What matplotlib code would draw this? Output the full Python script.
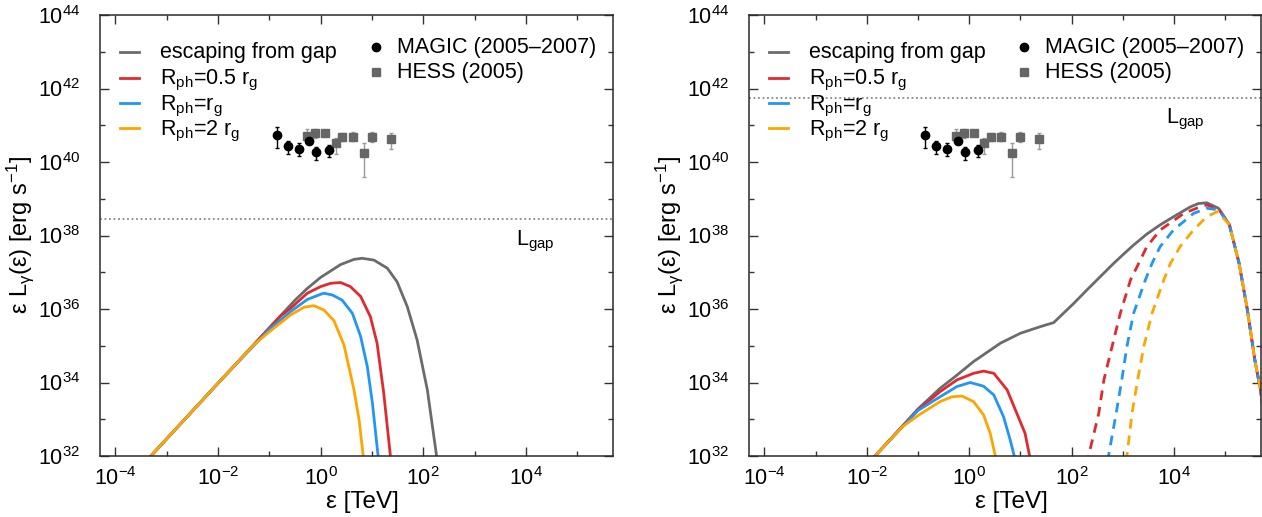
import numpy as np
import matplotlib
matplotlib.use("Agg")
import matplotlib.pyplot as plt
from matplotlib.ticker import FixedLocator, NullFormatter
from matplotlib.lines import Line2D

plt.rcParams["font.family"] = ["Liberation Sans", "DejaVu Sans"]
plt.rcParams["mathtext.fontset"] = "custom"
plt.rcParams["mathtext.rm"] = "Liberation Sans"
plt.rcParams["mathtext.it"] = "Liberation Sans:italic"
plt.rcParams["mathtext.bf"] = "Liberation Sans:bold"


# --------------------------------
# DATA (log10 E [TeV], log10 L [erg/s])
# --------------------------------

# left panel
left_gap_logE = [-3.6, -3.31, -2.0, -1.0, -0.5, -0.26, 0.0, 0.39, 0.65, 0.81, 1.04, 1.30, 1.49, 1.69, 1.88, 2.08, 2.26, 2.35]
left_gap_logL = [31.56, 32.0, 33.98, 35.49, 36.24, 36.56, 36.86, 37.21, 37.35, 37.38, 37.33, 37.11, 36.74, 36.06, 35.16, 33.80, 32.0, 31.0]

left_r05_logE = [-3.6, -3.31, -2.0, -1.0, -0.78, -0.584, -0.26, 0.0, 0.195, 0.39, 0.58, 0.78, 0.97, 1.10, 1.23, 1.36, 1.45]
left_r05_logL = [31.56, 32.0, 33.98, 35.48, 35.81, 36.02, 36.43, 36.61, 36.70, 36.72, 36.61, 36.34, 35.79, 35.07, 33.71, 32.0, 31.0]

left_r1_logE = [-3.6, -3.31, -2.0, -1.0, -0.584, -0.26, 0.0, 0.065, 0.23, 0.42, 0.62, 0.78, 0.91, 1.01, 1.12, 1.2]
left_r1_logL = [31.56, 32.0, 33.98, 35.45, 35.93, 36.26, 36.40, 36.43, 36.38, 36.24, 35.88, 35.25, 34.43, 33.43, 32.0, 31.0]

left_r2_logE = [-3.6, -3.31, -2.0, -1.3, -1.0, -0.584, -0.32, -0.13, 0.065, 0.26, 0.455, 0.65, 0.75, 0.83, 0.9]
left_r2_logL = [31.56, 32.0, 33.98, 35.03, 35.38, 35.84, 36.05, 36.09, 35.97, 35.68, 35.02, 33.80, 32.98, 32.0, 31.2]

# right panel
right_gap_logE = [-2.0, -1.84, -1.0, -0.57, -0.24, 0.085, 0.61, 1.0, 1.39, 1.65, 2.04, 2.30, 2.56, 2.82, 3.02, 3.21, 3.47, 3.73, 3.99, 4.32, 4.48, 4.64, 4.87, 5.08, 5.27, 5.43, 5.58, 5.69, 5.8]
right_gap_logL = [31.76, 32.0, 33.28, 33.84, 34.2, 34.57, 35.07, 35.34, 35.52, 35.63, 36.15, 36.52, 36.88, 37.24, 37.50, 37.74, 38.04, 38.29, 38.51, 38.78, 38.87, 38.89, 38.74, 38.3, 37.25, 36.0, 34.6, 33.8, 32.6]

right_r05_logE = [-2.0, -1.84, -1.0, -0.57, -0.24, 0.085, 0.28, 0.48, 0.74, 0.93, 1.09, 1.18, 1.25]
right_r05_logL = [31.76, 32.0, 33.26, 33.75, 34.07, 34.25, 34.31, 34.25, 33.80, 33.16, 32.62, 32.0, 31.4]

right_r1_logE = [-2.0, -1.84, -1.0, -0.57, -0.24, 0.02, 0.28, 0.48, 0.67, 0.80, 0.88, 0.95]
right_r1_logL = [31.76, 32.0, 33.24, 33.61, 33.89, 34.0, 33.90, 33.66, 33.07, 32.44, 32.0, 31.5]

right_r2_logE = [-2.0, -1.84, -1.3, -1.0, -0.83, -0.57, -0.34, -0.14, 0.085, 0.28, 0.41, 0.51, 0.58]
right_r2_logL = [31.76, 32.0, 32.8, 33.1, 33.25, 33.48, 33.61, 33.63, 33.48, 33.12, 32.62, 32.0, 31.5]

# right panel, dashed (cascade) components
right_r05_casc_logE = [2.25, 2.33, 2.53, 2.63, 2.79, 2.95, 3.15, 3.31, 3.47, 3.73, 4.19, 4.51, 4.64, 4.87, 5.08, 5.27, 5.43, 5.58, 5.69, 5.8]
right_r05_casc_logL = [31.3, 32.0, 33.16, 34.07, 34.98, 35.88, 36.79, 37.24, 37.70, 38.15, 38.60, 38.78, 38.83, 38.72, 38.3, 37.25, 36.0, 34.6, 33.8, 32.6]

right_r1_casc_logE = [2.65, 2.72, 2.87, 2.98, 3.08, 3.21, 3.44, 3.57, 3.73, 3.99, 4.38, 4.64, 4.87, 5.08, 5.27, 5.43, 5.58, 5.69, 5.8]
right_r1_casc_logL = [31.4, 32.0, 33.16, 34.07, 34.98, 35.88, 36.79, 37.24, 37.70, 38.15, 38.60, 38.74, 38.70, 38.3, 37.25, 36.0, 34.6, 33.8, 32.6]

right_r2_casc_logE = [3.0, 3.08, 3.18, 3.29, 3.41, 3.57, 3.80, 3.93, 4.12, 4.38, 4.64, 4.84, 5.08, 5.27, 5.43, 5.58, 5.69, 5.8]
right_r2_casc_logL = [31.4, 32.0, 33.16, 34.07, 34.98, 35.88, 36.79, 37.24, 37.70, 38.15, 38.51, 38.65, 38.3, 37.25, 36.0, 34.6, 33.8, 32.6]

# gap luminosity
left_lgap = 2.8e38
right_lgap = 5.6e41

# observations
magic_logE = [-0.857, -0.644, -0.43, -0.227, -0.09, 0.169]
magic_logL = [40.73, 40.44, 40.35, 40.58, 40.26, 40.32]
magic_lo = [40.37, 40.22, 40.15, 40.50, 40.05, 40.14]
magic_hi = [40.94, 40.58, 40.51, 40.66, 40.42, 40.46]

hess_logE = [-0.26, -0.11, 0.085, 0.29, 0.416, 0.623, 0.845, 1.0, 1.37]
hess_logL = [40.72, 40.80, 40.78, 40.51, 40.69, 40.69, 40.24, 40.69, 40.62]
hess_lo = [40.54, 40.66, 40.70, 40.21, 40.58, 40.56, 39.58, 40.55, 40.35]
hess_hi = [40.89, 40.90, 40.86, 40.64, 40.79, 40.82, 40.51, 40.82, 40.80]

curve_labels = [
    "escaping from gap",
    r"R$_\mathregular{ph}$=0.5 r$_\mathregular{g}$",
    r"R$_\mathregular{ph}$=r$_\mathregular{g}$",
    r"R$_\mathregular{ph}$=2 r$_\mathregular{g}$",
]
obs_labels = ["MAGIC (2005–2007)", "HESS (2005)"]

x_major = [1e-4, 1e-2, 1e0, 1e2, 1e4]
x_minor = [1e-3, 1e-1, 1e1, 1e3, 1e5]
y_major = [1e32, 1e34, 1e36, 1e38, 1e40, 1e42, 1e44]
y_minor = [1e33, 1e35, 1e37, 1e39, 1e41, 1e43]

c_gray = "#6b6b6b"
c_red = "#e02a2f"
c_blue = "#2196f3"
c_orange = "#ffa500"
colors = [c_gray, c_red, c_blue, c_orange]


def p(v):
    return 10.0 ** np.asarray(v)


# --------------------------------
# FIGURE
# --------------------------------

fig = plt.figure(figsize=(12.62, 5.17), dpi=100)

ax_l = fig.add_axes([100 / 1262, 61 / 517, 513 / 1262, 441 / 517])
ax_r = fig.add_axes([749 / 1262, 61 / 517, 512 / 1262, 441 / 517])


def setup_axes(ax):

    ax.set_xscale("log")
    ax.set_yscale("log")
    ax.set_xlim(5e-5, 5e5)
    ax.set_ylim(1e32, 1e44)

    ax.xaxis.set_major_locator(FixedLocator(x_major))
    ax.xaxis.set_minor_locator(FixedLocator(x_minor))
    ax.xaxis.set_minor_formatter(NullFormatter())
    ax.yaxis.set_major_locator(FixedLocator(y_major))
    ax.yaxis.set_minor_locator(FixedLocator(y_minor))
    ax.yaxis.set_minor_formatter(NullFormatter())

    ax.tick_params(which="both", direction="in", top=True, right=True,
                   color="#333333", width=1.0)
    ax.tick_params(which="major", length=6.5)
    ax.tick_params(which="minor", length=3.3)
    ax.tick_params(axis="x", labelsize=15.5, pad=8)
    ax.tick_params(axis="y", labelsize=15.5, pad=14)

    for s in ax.spines.values():
        s.set_color("#2a2a2a")
        s.set_linewidth(1.1)

    ax.set_xlabel("ε [TeV]", fontsize=17.5)
    ax.xaxis.set_label_coords(0.512, -0.08)
    ax.set_ylabel(r"ε L$_\mathregular{γ}$(ε) [erg s$^\mathregular{-1}$]",
                  fontsize=17)
    ax.yaxis.set_label_coords(-0.125, 0.5)


def draw_data(ax):

    hx = p(hess_logE)
    hy = p(hess_logL)
    ax.errorbar(hx, hy, yerr=[hy - p(hess_lo), p(hess_hi) - hy],
                fmt="none", ecolor="#9a9a9a", elinewidth=1.0, capsize=1.5)
    ax.plot(hx, hy, "s", color="#666666", ms=6.3, ls="none")

    mx = p(magic_logE)
    my = p(magic_logL)
    ax.errorbar(mx, my, yerr=[my - p(magic_lo), p(magic_hi) - my],
                fmt="none", ecolor="black", elinewidth=1.0, capsize=1.5)
    ax.plot(mx, my, "o", color="black", ms=6, ls="none")


def draw_key(ax):

    # line key (left block)
    line_y = [0.9168, 0.8578, 0.8011, 0.7444]
    text_y = [0.9025, 0.8435, 0.7846, 0.7279]
    for c, lab, ly, ty in zip(colors, curve_labels, line_y, text_y):
        ax.add_line(Line2D([0.039, 0.076], [ly, ly], color=c, lw=2,
                           transform=ax.transAxes))
        ax.text(0.117, ty, lab, fontsize=15.5, transform=ax.transAxes,
                va="baseline", ha="left")

    # observation key (right block)
    ax.plot([0.538], [0.9274], "o", color="black", ms=6,
            transform=ax.transAxes, clip_on=False)
    ax.plot([0.538], [0.8707], "s", color="#666666", ms=6.3,
            transform=ax.transAxes, clip_on=False)
    ax.text(0.579, 0.9132, obs_labels[0], fontsize=15.5,
            transform=ax.transAxes, va="baseline")
    ax.text(0.579, 0.8565, obs_labels[1], fontsize=15.5,
            transform=ax.transAxes, va="baseline")


# --------------------------------
# LEFT PANEL
# --------------------------------

setup_axes(ax_l)

ax_l.axhline(left_lgap, color="#888888", lw=1.3, ls=(0, (1, 1.5)))
ax_l.text(p(3.81), p(37.74), r"L$_\mathregular{gap}$", fontsize=15.5)

for xs, ys, c in [
    (left_gap_logE, left_gap_logL, c_gray),
    (left_r05_logE, left_r05_logL, c_red),
    (left_r1_logE, left_r1_logL, c_blue),
    (left_r2_logE, left_r2_logL, c_orange),
]:
    ax_l.plot(p(xs), p(ys), color=c, lw=2)

draw_data(ax_l)
draw_key(ax_l)


# --------------------------------
# RIGHT PANEL
# --------------------------------

setup_axes(ax_r)

ax_r.axhline(right_lgap, color="#888888", lw=1.3, ls=(0, (1, 1.5)))
ax_r.text(p(3.84), p(41.05), r"L$_\mathregular{gap}$", fontsize=15.5)

for xs, ys, c in [
    (right_gap_logE, right_gap_logL, c_gray),
    (right_r05_logE, right_r05_logL, c_red),
    (right_r1_logE, right_r1_logL, c_blue),
    (right_r2_logE, right_r2_logL, c_orange),
]:
    ax_r.plot(p(xs), p(ys), color=c, lw=2)

for xs, ys, c in [
    (right_r05_casc_logE, right_r05_casc_logL, c_red),
    (right_r1_casc_logE, right_r1_casc_logL, c_blue),
    (right_r2_casc_logE, right_r2_casc_logL, c_orange),
]:
    ax_r.plot(p(xs), p(ys), color=c, lw=2, dashes=(3.5, 2.5))

draw_data(ax_r)
draw_key(ax_r)

fig.savefig("out.png", dpi=100)
